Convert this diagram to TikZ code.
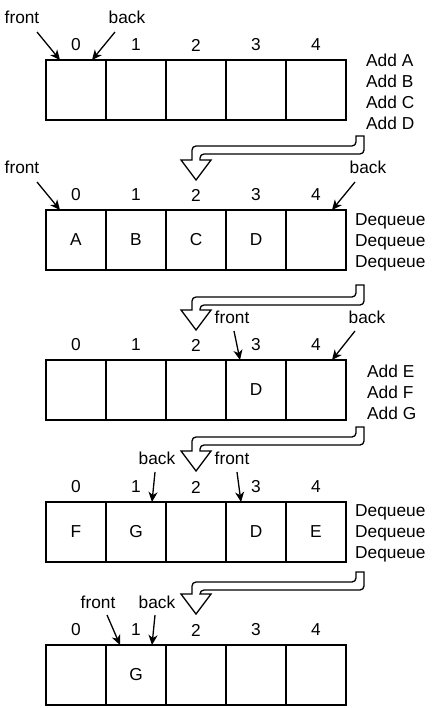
\documentclass[tikz,border=0pt]{standalone}
\usepackage{fontspec}
\setmainfont{Liberation Sans}
\usetikzlibrary{arrows.meta}
\tikzset{
  lw/.style={line width=1.3pt},
  cell/.style={draw, lw, minimum width=60pt, minimum height=60pt, inner sep=0pt, outer sep=0pt, anchor=north west},
  lbl/.style={inner sep=0pt, font=\fontsize{17.3}{21}\selectfont},
  side/.style={lbl, align=left, anchor=west},
  ptr/.style={lw, -{Stealth[length=10pt,width=9pt,inset=3pt]}},
  blk/.style={lw, fill=white, line join=miter}
}
\newcommand\blockarr[3]{%
  \pgfmathsetmacro\hT{#2-4}\pgfmathsetmacro\hB{#2+4}\pgfmathsetmacro\hd{#3-20}%
  \draw[blk] (356,#1) -- (364,#1) [rounded corners=4pt] -- (364,\hB) -- (200,\hB) [sharp corners] -- (200,\hd) -- (211,\hd) -- (196,#3) -- (181,\hd) -- (192,\hd) [rounded corners=4pt] -- (192,\hT) -- (356,\hT) [sharp corners] -- cycle;}
\begin{document}
\begin{tikzpicture}[x=1pt,y=-1pt]
\useasboundingbox (0,0) rectangle (438,708);
% rows of cells and index labels
\foreach \r/\t in {1/60,2/210,3/360,4/502,5/645}{
  \foreach \i in {0,...,4}{
    \node[cell] (r\r c\i) at ({46+60*\i},\t) {};
    \node[lbl] (r\r i\i) at ({76+60*\i},{\t-15}) {\i};
  }
}
% cell contents
\foreach \r/\i/\v in {2/0/A,2/1/B,2/2/C,2/3/D,3/3/D,4/0/F,4/1/G,4/3/D,4/4/E,5/1/G}{
  \node[lbl] at (r\r c\i.center) {\v};
}
% side texts
\node[side] (s1) at (366,91.5) {Add A\\Add B\\Add C\\Add D};
\node[side] (s2) at (355,242) {Dequeue\\Dequeue\\Dequeue};
\node[side] (s3) at (367,392) {Add E\\Add F\\Add G};
\node[side] (s4) at (355,533) {Dequeue\\Dequeue\\Dequeue};
% pointer labels
\node[lbl] (f1) at (22,17) {front};
\node[lbl] (b1) at (127,17) {back};
\node[lbl] (f2) at (22,167) {front};
\node[lbl] (b2) at (368,167) {back};
\node[lbl] (f3) at (232,317) {front};
\node[lbl] (b3) at (367,317) {back};
\node[lbl] (b4) at (157,458) {back};
\node[lbl] (f4) at (232,458) {front};
\node[lbl] (f5) at (98,602) {front};
\node[lbl] (b5) at (157,602) {back};
% pointer arrow end points
\coordinate (f1s) at (37,32);  \coordinate (f1e) at (60,60);
\coordinate (b1s) at (115,32); \coordinate (b1e) at (92,60);
\coordinate (f2s) at (37,182); \coordinate (f2e) at (60,210);
\coordinate (b2s) at (355,182);\coordinate (b2e) at (332,210);
\coordinate (f3s) at (234,331);\coordinate (f3e) at (240,360);
\coordinate (b3s) at (355,331);\coordinate (b3e) at (332,360);
\coordinate (b4s) at (155,472);\coordinate (b4e) at (152,502);
\coordinate (f4s) at (237,472);\coordinate (f4e) at (241,502);
\coordinate (f5s) at (107,615);\coordinate (f5e) at (120,645);
\coordinate (b5s) at (155,615);\coordinate (b5e) at (152,645);
\foreach \p in {f1,b1,f2,b2,f3,b3,b4,f4,f5,b5}{
  \draw[ptr] (\p s) -- (\p e);
}
% block arrows
\blockarr{136}{150}{180}
\blockarr{285}{301}{330}
\blockarr{427}{441}{471}
\blockarr{572}{586}{614}
\end{tikzpicture}
\end{document}
